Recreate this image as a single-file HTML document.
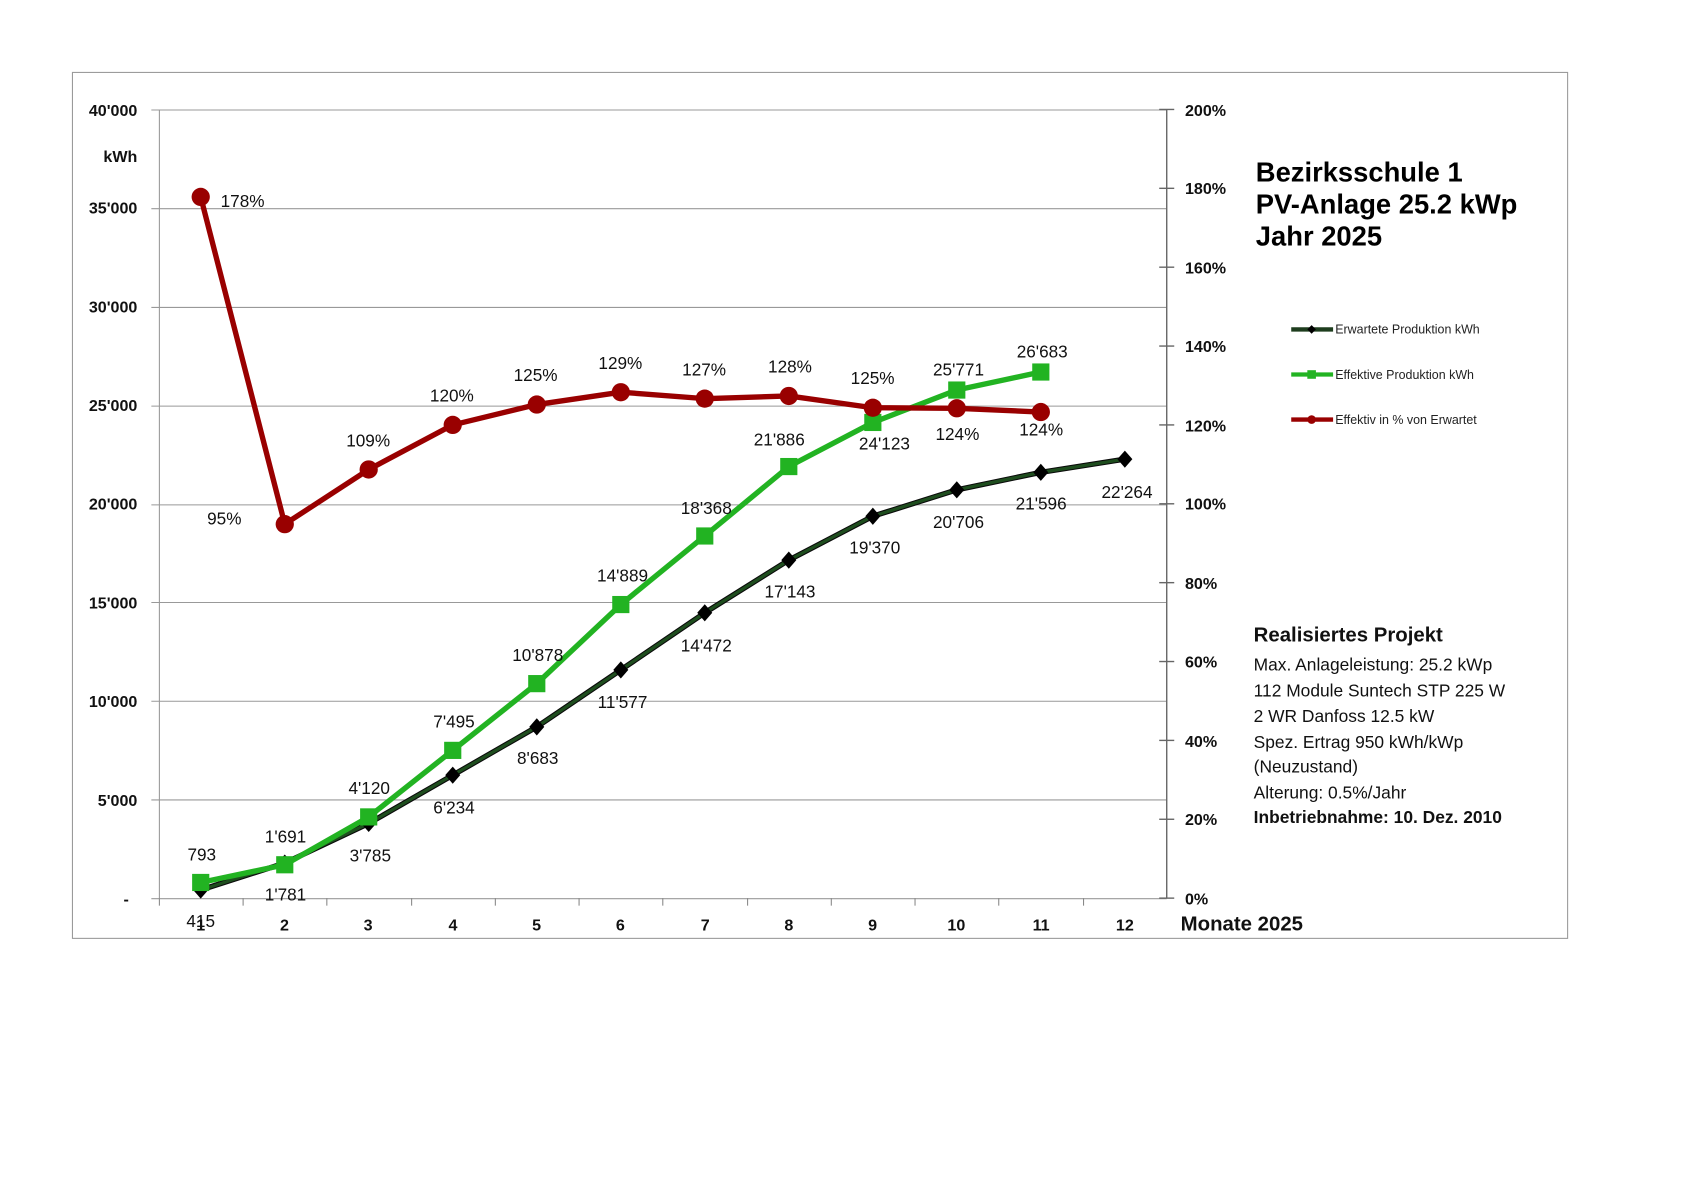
<!DOCTYPE html>
<html><head><meta charset="utf-8"><style>
html,body{margin:0;padding:0;background:#fff;}
svg{display:block;}
text{font-family:"Liberation Sans",sans-serif;}
</style></head><body>
<svg width="1683" height="1190" viewBox="0 0 1568 1109" preserveAspectRatio="none" xmlns="http://www.w3.org/2000/svg">
<rect x="67.5" y="67.5" width="1393" height="807" fill="#fff" stroke="#999" stroke-width="1"/>
<g stroke="#999" stroke-width="1">
<line x1="141" y1="102.5" x2="1087" y2="102.5"/>
<line x1="141" y1="194.5" x2="1087" y2="194.5"/>
<line x1="141" y1="286.5" x2="1087" y2="286.5"/>
<line x1="141" y1="378.5" x2="1087" y2="378.5"/>
<line x1="141" y1="470.5" x2="1087" y2="470.5"/>
<line x1="141" y1="561.5" x2="1087" y2="561.5"/>
<line x1="141" y1="653.5" x2="1087" y2="653.5"/>
<line x1="141" y1="745.5" x2="1087" y2="745.5"/>
<line x1="141" y1="837.5" x2="1087" y2="837.5"/>
<line x1="148.5" y1="102" x2="148.5" y2="837"/>
</g>
<g stroke="#888" stroke-width="1">
<line x1="148.5" y1="837" x2="148.5" y2="844"/><line x1="226.5" y1="837" x2="226.5" y2="844"/>
<line x1="304.5" y1="837" x2="304.5" y2="844"/><line x1="383.5" y1="837" x2="383.5" y2="844"/>
<line x1="461.5" y1="837" x2="461.5" y2="844"/><line x1="539.5" y1="837" x2="539.5" y2="844"/>
<line x1="617.5" y1="837" x2="617.5" y2="844"/><line x1="696.5" y1="837" x2="696.5" y2="844"/>
<line x1="774.5" y1="837" x2="774.5" y2="844"/><line x1="852.5" y1="837" x2="852.5" y2="844"/>
<line x1="930.5" y1="837" x2="930.5" y2="844"/><line x1="1009.5" y1="837" x2="1009.5" y2="844"/>
</g>
<g stroke="#666" stroke-width="1.3">
<line x1="1087" y1="102" x2="1087" y2="837"/>
<line x1="1080" y1="102" x2="1094" y2="102"/><line x1="1080" y1="175.5" x2="1094" y2="175.5"/>
<line x1="1080" y1="249" x2="1094" y2="249"/><line x1="1080" y1="322.5" x2="1094" y2="322.5"/>
<line x1="1080" y1="396" x2="1094" y2="396"/><line x1="1080" y1="469.5" x2="1094" y2="469.5"/>
<line x1="1080" y1="543" x2="1094" y2="543"/><line x1="1080" y1="616.5" x2="1094" y2="616.5"/>
<line x1="1080" y1="690" x2="1094" y2="690"/><line x1="1080" y1="763.5" x2="1094" y2="763.5"/>
<line x1="1080" y1="837" x2="1094" y2="837"/>
</g>
<g font-size="15" font-weight="bold" fill="#111" text-anchor="end">
<text x="128" y="108">40'000</text>
<text x="128" y="151">kWh</text>
<text x="128" y="199">35'000</text>
<text x="128" y="291">30'000</text>
<text x="128" y="383">25'000</text>
<text x="128" y="475">20'000</text>
<text x="128" y="567">15'000</text>
<text x="128" y="659">10'000</text>
<text x="128" y="751">5'000</text>
<text x="120" y="843">-</text>
</g>
<g font-size="15" font-weight="bold" fill="#111">
<text x="1104" y="108">200%</text><text x="1104" y="181">180%</text>
<text x="1104" y="255">160%</text><text x="1104" y="328">140%</text>
<text x="1104" y="402">120%</text><text x="1104" y="475">100%</text>
<text x="1104" y="549">80%</text><text x="1104" y="622">60%</text>
<text x="1104" y="696">40%</text><text x="1104" y="769">20%</text>
<text x="1104" y="843">0%</text>
</g>
<g font-size="15" font-weight="bold" fill="#111" text-anchor="middle">
<text x="187" y="867">1</text><text x="265" y="867">2</text><text x="343" y="867">3</text>
<text x="422" y="867">4</text><text x="500" y="867">5</text><text x="578" y="867">6</text>
<text x="657" y="867">7</text><text x="735" y="867">8</text><text x="813" y="867">9</text>
<text x="891" y="867">10</text><text x="970" y="867">11</text><text x="1048" y="867">12</text>
</g>
<text x="1100" y="867" font-size="19" font-weight="bold" fill="#111">Monate 2025</text>
<polyline fill="none" stroke="#0a0a0a" stroke-width="5" stroke-linejoin="round" points="187,829.4 265.3,804.3 343.5,767.4 421.8,722.4 500.1,677.4 578.4,624.3 656.6,571.1 734.9,522 813.2,481.1 891.4,456.5 969.7,440.2 1048,427.9"/>
<polyline fill="none" stroke="#1e4d1e" stroke-width="3" stroke-linejoin="round" points="187,829.4 265.3,804.3 343.5,767.4 421.8,722.4 500.1,677.4 578.4,624.3 656.6,571.1 734.9,522 813.2,481.1 891.4,456.5 969.7,440.2 1048,427.9"/>
<g fill="#000">
<path d="M187,821.4 l7,8 -7,8 -7,-8z"/><path d="M265.3,796.3 l7,8 -7,8 -7,-8z"/>
<path d="M343.5,759.4 l7,8 -7,8 -7,-8z"/><path d="M421.8,714.4 l7,8 -7,8 -7,-8z"/>
<path d="M500.1,669.4 l7,8 -7,8 -7,-8z"/><path d="M578.4,616.3 l7,8 -7,8 -7,-8z"/>
<path d="M656.6,563.1 l7,8 -7,8 -7,-8z"/><path d="M734.9,514 l7,8 -7,8 -7,-8z"/>
<path d="M813.2,473.1 l7,8 -7,8 -7,-8z"/><path d="M891.4,448.5 l7,8 -7,8 -7,-8z"/>
<path d="M969.7,432.2 l7,8 -7,8 -7,-8z"/><path d="M1048,419.9 l7,8 -7,8 -7,-8z"/>
</g>
<polyline fill="none" stroke="#22b322" stroke-width="5" stroke-linejoin="round" points="187,822.4 265.3,805.9 343.5,761.3 421.8,699.3 500.1,637.1 578.4,563.4 656.6,499.5 734.9,434.8 813.2,393.7 891.4,363.5 969.7,346.7"/>
<g fill="#22b322">
<rect x="179" y="814.4" width="16" height="16"/><rect x="257.3" y="797.9" width="16" height="16"/>
<rect x="335.5" y="753.3" width="16" height="16"/><rect x="413.8" y="691.3" width="16" height="16"/>
<rect x="492.1" y="629.1" width="16" height="16"/><rect x="570.4" y="555.4" width="16" height="16"/>
<rect x="648.6" y="491.5" width="16" height="16"/><rect x="726.9" y="426.8" width="16" height="16"/>
<rect x="805.2" y="385.7" width="16" height="16"/><rect x="883.4" y="355.5" width="16" height="16"/>
<rect x="961.7" y="338.7" width="16" height="16"/>
</g>
<polyline fill="none" stroke="#990000" stroke-width="5" stroke-linejoin="round" points="187,183.5 265.3,488.5 343.5,437.5 421.8,396 500.1,377 578.4,365.5 656.6,371.5 734.9,369 813.2,380 891.4,380.5 969.7,384"/>
<g fill="#990000">
<circle cx="187" cy="183.5" r="8.5"/><circle cx="265.3" cy="488.5" r="8.5"/>
<circle cx="343.5" cy="437.5" r="8.5"/><circle cx="421.8" cy="396" r="8.5"/>
<circle cx="500.1" cy="377" r="8.5"/><circle cx="578.4" cy="365.5" r="8.5"/>
<circle cx="656.6" cy="371.5" r="8.5"/><circle cx="734.9" cy="369" r="8.5"/>
<circle cx="813.2" cy="380" r="8.5"/><circle cx="891.4" cy="380.5" r="8.5"/>
<circle cx="969.7" cy="384" r="8.5"/>
</g>
<g font-size="16" fill="#111" text-anchor="middle">
<text x="187" y="864">415</text><text x="266" y="839">1'781</text><text x="345" y="803">3'785</text>
<text x="423" y="758">6'234</text><text x="501" y="712">8'683</text><text x="580" y="660">11'577</text>
<text x="658" y="607">14'472</text><text x="736" y="557">17'143</text><text x="815" y="516">19'370</text>
<text x="893" y="492">20'706</text><text x="970" y="475">21'596</text><text x="1050" y="464">22'264</text>
<text x="188" y="802">793</text><text x="266" y="785">1'691</text><text x="344" y="740">4'120</text>
<text x="423" y="678">7'495</text><text x="501" y="616">10'878</text><text x="580" y="542">14'889</text>
<text x="658" y="479">18'368</text><text x="726" y="415">21'886</text><text x="824" y="419">24'123</text>
<text x="893" y="350">25'771</text><text x="971" y="333">26'683</text>
<text x="226" y="193">178%</text><text x="209" y="489">95%</text><text x="343" y="416">109%</text>
<text x="421" y="374">120%</text><text x="499" y="355">125%</text><text x="578" y="344">129%</text>
<text x="656" y="350">127%</text><text x="736" y="347">128%</text><text x="813" y="358">125%</text>
<text x="892" y="410">124%</text><text x="970" y="406">124%</text>
</g>
<g font-size="25.5" font-weight="bold" fill="#000">
<text x="1170" y="169">Bezirksschule 1</text>
<text x="1170" y="199">PV-Anlage 25.2 kWp</text>
<text x="1170" y="229">Jahr 2025</text>
</g>
<g stroke-width="4">
<line x1="1203" y1="307" x2="1242" y2="307" stroke="#1e3d1e"/>
<line x1="1203" y1="349" x2="1242" y2="349" stroke="#22b322"/>
<line x1="1203" y1="391" x2="1242" y2="391" stroke="#990000"/>
</g>
<path d="M1222,303 l4,4 -4,4 -4,-4z" fill="#000"/>
<rect x="1218" y="345" width="8" height="8" fill="#22b322"/>
<circle cx="1222" cy="391" r="4" fill="#990000"/>
<g font-size="11.6" fill="#222">
<text x="1244" y="311">Erwartete Produktion kWh</text>
<text x="1244" y="353">Effektive Produktion kWh</text>
<text x="1244" y="395">Effektiv in % von Erwartet</text>
</g>
<text x="1168" y="598" font-size="19" font-weight="bold" fill="#111">Realisiertes Projekt</text>
<g font-size="16.2" fill="#111">
<text x="1168" y="625">Max. Anlageleistung: 25.2 kWp</text>
<text x="1168" y="649">112 Module Suntech STP 225 W</text>
<text x="1168" y="673">2 WR Danfoss 12.5 kW</text>
<text x="1168" y="697">Spez. Ertrag 950 kWh/kWp</text>
<text x="1168" y="720">(Neuzustand)</text>
<text x="1168" y="744">Alterung: 0.5%/Jahr</text>
<text x="1168" y="767" font-weight="bold">Inbetriebnahme: 10. Dez. 2010</text>
</g>
</svg>
</body></html>
